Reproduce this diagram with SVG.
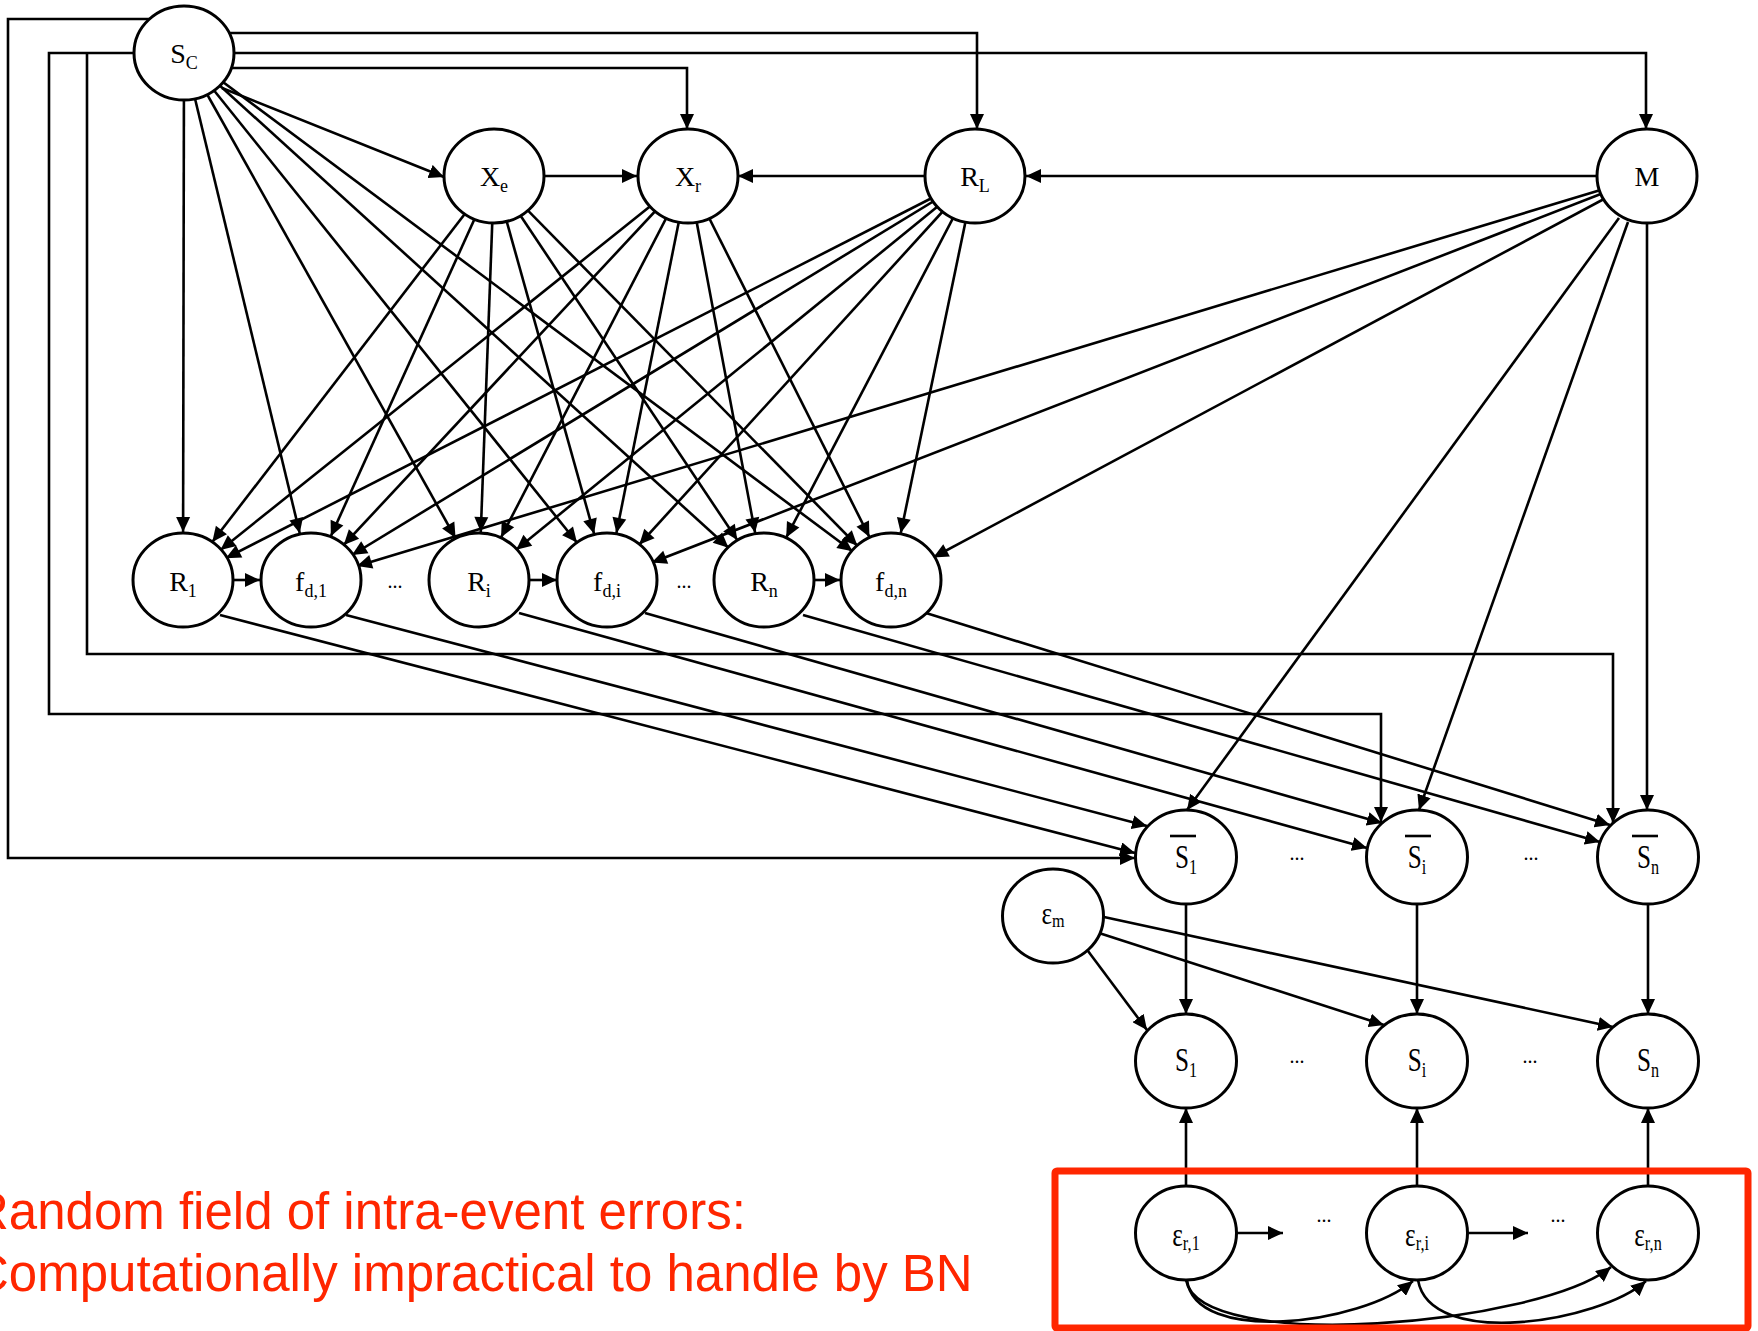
<svg xmlns="http://www.w3.org/2000/svg" width="1758" height="1331" viewBox="0 0 1758 1331">
<defs>
<style>
.n ellipse { fill:#fff; stroke:#000; stroke-width:3; }
.lb { font-family:"Liberation Serif","DejaVu Serif",serif; font-size:28px; text-anchor:middle; fill:#000; }
.sub { font-size:18px; }
.bar { stroke:#000; stroke-width:2.6; }
.e { fill:none; stroke:#000; stroke-width:2.6; }
.c { marker-end:url(#ahc); }
.a { marker-end:url(#ah); }
.dots { font-family:"Liberation Serif",serif; font-size:20px; text-anchor:middle; fill:#000; }
.red { font-family:"Liberation Sans",Arial,sans-serif; font-size:51px; fill:#ff2600; }
</style>
<marker id="ah" viewBox="0 0 15 14" refX="15" refY="7" markerWidth="15" markerHeight="14" markerUnits="userSpaceOnUse" orient="auto"><path d="M0,0 L15,7 L0,14 z" fill="#000"/></marker>
<marker id="ahc" viewBox="0 0 15 14" refX="63" refY="7" markerWidth="15" markerHeight="14" markerUnits="userSpaceOnUse" orient="auto" overflow="visible"><path d="M0,0 L15,7 L0,14 z" fill="#000"/></marker>
</defs>
<rect width="1758" height="1331" fill="#fff"/>

<g id="connectors">
  <line class="e c" x1="184" y1="53" x2="183" y2="580"/>
  <line class="e c" x1="184" y1="53" x2="311" y2="580"/>
  <line class="e c" x1="184" y1="53" x2="479" y2="580"/>
  <line class="e c" x1="184" y1="53" x2="607" y2="580"/>
  <line class="e c" x1="184" y1="53" x2="764" y2="580"/>
  <line class="e c" x1="184" y1="53" x2="891" y2="580"/>

  <line class="e c" x1="494" y1="176" x2="183" y2="580"/>
  <line class="e c" x1="494" y1="176" x2="311" y2="580"/>
  <line class="e c" x1="494" y1="176" x2="479" y2="580"/>
  <line class="e c" x1="494" y1="176" x2="607" y2="580"/>
  <line class="e c" x1="494" y1="176" x2="764" y2="580"/>
  <line class="e c" x1="494" y1="176" x2="891" y2="580"/>

  <line class="e c" x1="688" y1="176" x2="183" y2="580"/>
  <line class="e c" x1="688" y1="176" x2="311" y2="580"/>
  <line class="e c" x1="688" y1="176" x2="479" y2="580"/>
  <line class="e c" x1="688" y1="176" x2="607" y2="580"/>
  <line class="e c" x1="688" y1="176" x2="764" y2="580"/>
  <line class="e c" x1="688" y1="176" x2="891" y2="580"/>

  <line class="e c" x1="975" y1="176" x2="183" y2="580"/>
  <line class="e c" x1="975" y1="176" x2="311" y2="580"/>
  <line class="e c" x1="975" y1="176" x2="479" y2="580"/>
  <line class="e c" x1="975" y1="176" x2="607" y2="580"/>
  <line class="e c" x1="975" y1="176" x2="764" y2="580"/>
  <line class="e c" x1="975" y1="176" x2="891" y2="580"/>

  <line class="e c" x1="1647" y1="176" x2="311" y2="580"/>
  <line class="e c" x1="1647" y1="176" x2="607" y2="580"/>
  <line class="e c" x1="1647" y1="176" x2="891" y2="580"/>

  <line class="e a" x1="222" y1="88" x2="444" y2="177"/>
  <polyline class="e a" points="231,68 687,68 687,129"/>
  <polyline class="e a" points="229,33 977,33 977,129"/>
  <polyline class="e a" points="234,53 1646,53 1646,129"/>
  <line class="e a" x1="545" y1="176" x2="637" y2="176"/>
  <line class="e a" x1="924" y1="176" x2="738" y2="176"/>
  <line class="e a" x1="1596" y1="176" x2="1026" y2="176"/>

  <polyline class="e a" points="150,19 8,19 8,858 1135,858"/>
  <polyline class="e a" points="134,53 49,53 49,714 1381,714 1381,822"/>
  <polyline class="e a" points="87,53 87,654 1613,654 1613,823"/>

  <line class="e a" x1="234" y1="580" x2="260" y2="580"/>
  <line class="e a" x1="529" y1="580" x2="557" y2="580"/>
  <line class="e a" x1="815" y1="580" x2="840" y2="580"/>

  <line class="e a" x1="1619" y1="218" x2="1187" y2="810"/>
  <line class="e a" x1="1628" y1="222" x2="1419" y2="810"/>
  <line class="e a" x1="1647" y1="223" x2="1647" y2="810"/>

  <line class="e a" x1="220" y1="615" x2="1135" y2="853"/>
  <line class="e a" x1="346" y1="615" x2="1147" y2="826"/>
  <line class="e a" x1="519" y1="613" x2="1367" y2="848"/>
  <line class="e a" x1="645" y1="613" x2="1382" y2="823"/>
  <line class="e a" x1="803" y1="615" x2="1600" y2="842"/>
  <line class="e a" x1="926" y1="613" x2="1610" y2="825"/>

  <line class="e a" x1="1186" y1="904" x2="1186" y2="1014"/>
  <line class="e a" x1="1417" y1="904" x2="1417" y2="1014"/>
  <line class="e a" x1="1648" y1="904" x2="1648" y2="1014"/>

  <line class="e a" x1="1088" y1="951" x2="1147" y2="1030"/>
  <line class="e a" x1="1099" y1="933" x2="1384" y2="1025"/>
  <line class="e a" x1="1104" y1="917" x2="1613" y2="1027"/>

  <line class="e a" x1="1186" y1="1186" x2="1186" y2="1108"/>
  <line class="e a" x1="1417" y1="1186" x2="1417" y2="1108"/>
  <line class="e a" x1="1648" y1="1186" x2="1648" y2="1108"/>

  <line class="e a" x1="1237" y1="1233" x2="1283" y2="1233"/>
  <line class="e a" x1="1468" y1="1233" x2="1528" y2="1233"/>
  <path class="e a" d="M1187,1280 C1195,1345 1360,1325 1413,1281"/>
  <path class="e a" d="M1186,1280 C1200,1355 1540,1325 1611,1267"/>
  <path class="e a" d="M1418,1280 C1430,1350 1600,1322 1646,1281"/>
</g>

<g id="n-Sc" class="n"><ellipse cx="184" cy="53" rx="50" ry="47"/><text class="lb" x="184" y="63">S<tspan class="sub" dy="6">C</tspan></text></g>
<g id="n-Xe" class="n"><ellipse cx="494" cy="176" rx="50" ry="47"/><text class="lb" x="494" y="186">X<tspan class="sub" dy="6">e</tspan></text></g>
<g id="n-Xr" class="n"><ellipse cx="688" cy="176" rx="50" ry="47"/><text class="lb" x="688" y="186">X<tspan class="sub" dy="6">r</tspan></text></g>
<g id="n-RL" class="n"><ellipse cx="975" cy="176" rx="50" ry="47"/><text class="lb" x="975" y="186">R<tspan class="sub" dy="6">L</tspan></text></g>
<g id="n-M" class="n"><ellipse cx="1647" cy="176" rx="50" ry="47"/><text class="lb" x="1647" y="186">M</text></g>

<g id="n-R1" class="n"><ellipse cx="183" cy="580" rx="50" ry="47"/><text class="lb" x="183" y="591">R<tspan class="sub" dy="6">1</tspan></text></g>
<g id="n-fd1" class="n"><ellipse cx="311" cy="580" rx="50" ry="47"/><text class="lb" x="311" y="591">f<tspan class="sub" dy="6">d,1</tspan></text></g>
<g id="n-Ri" class="n"><ellipse cx="479" cy="580" rx="50" ry="47"/><text class="lb" x="479" y="591">R<tspan class="sub" dy="6">i</tspan></text></g>
<g id="n-fdi" class="n"><ellipse cx="607" cy="580" rx="50" ry="47"/><text class="lb" x="607" y="591">f<tspan class="sub" dy="6">d,i</tspan></text></g>
<g id="n-Rn" class="n"><ellipse cx="764" cy="580" rx="50" ry="47"/><text class="lb" x="764" y="591">R<tspan class="sub" dy="6">n</tspan></text></g>
<g id="n-fdn" class="n"><ellipse cx="891" cy="580" rx="50" ry="47"/><text class="lb" x="891" y="591">f<tspan class="sub" dy="6">d,n</tspan></text></g>

<g id="n-Sb1" class="n"><ellipse cx="1186" cy="857" rx="50.5" ry="47"/><line class="bar" x1="1170" y1="836" x2="1196" y2="836"/><text class="lb" transform="translate(1186,868) scale(0.9,1.18)">S<tspan class="sub" dy="5">1</tspan></text></g>
<g id="n-Sbi" class="n"><ellipse cx="1417" cy="857" rx="50.5" ry="47"/><line class="bar" x1="1405" y1="836" x2="1431" y2="836"/><text class="lb" transform="translate(1417,868) scale(0.9,1.18)">S<tspan class="sub" dy="5">i</tspan></text></g>
<g id="n-Sbn" class="n"><ellipse cx="1648" cy="857" rx="50.5" ry="47"/><line class="bar" x1="1632" y1="836" x2="1658" y2="836"/><text class="lb" transform="translate(1648,868) scale(0.9,1.18)">S<tspan class="sub" dy="5">n</tspan></text></g>

<g id="n-em" class="n"><ellipse cx="1053" cy="916" rx="50.5" ry="47"/><text class="lb" transform="translate(1053,924) scale(0.9,1.1)">ε<tspan class="sub" font-size="20" dy="3">m</tspan></text></g>

<g id="n-S1" class="n"><ellipse cx="1186" cy="1061" rx="50.5" ry="47"/><text class="lb" transform="translate(1186,1071) scale(0.9,1.18)">S<tspan class="sub" dy="5">1</tspan></text></g>
<g id="n-Si" class="n"><ellipse cx="1417" cy="1061" rx="50.5" ry="47"/><text class="lb" transform="translate(1417,1071) scale(0.9,1.18)">S<tspan class="sub" dy="5">i</tspan></text></g>
<g id="n-Sn" class="n"><ellipse cx="1648" cy="1061" rx="50.5" ry="47"/><text class="lb" transform="translate(1648,1071) scale(0.9,1.18)">S<tspan class="sub" dy="5">n</tspan></text></g>

<g id="n-er1" class="n"><ellipse cx="1186" cy="1233" rx="50.5" ry="47"/><text class="lb" transform="translate(1186,1246) scale(0.9,1.18)">ε<tspan class="sub" dy="3">r,1</tspan></text></g>
<g id="n-eri" class="n"><ellipse cx="1417" cy="1233" rx="50.5" ry="47"/><text class="lb" transform="translate(1417,1246) scale(0.9,1.18)">ε<tspan class="sub" dy="3">r,i</tspan></text></g>
<g id="n-ern" class="n"><ellipse cx="1648" cy="1233" rx="50.5" ry="47"/><text class="lb" transform="translate(1648,1246) scale(0.9,1.18)">ε<tspan class="sub" dy="3">r,n</tspan></text></g>

<g id="ellipses">
  <text class="dots" x="395" y="588">...</text>
  <text class="dots" x="684" y="588">...</text>
  <text class="dots" x="1297" y="860">...</text>
  <text class="dots" x="1531" y="860">...</text>
  <text class="dots" x="1297" y="1063">...</text>
  <text class="dots" x="1530" y="1063">...</text>
  <text class="dots" x="1324" y="1222">...</text>
  <text class="dots" x="1558" y="1222">...</text>
</g>

<g id="annotation">
  <rect x="1055" y="1171" width="693" height="157" rx="2" fill="none" stroke="#ff2600" stroke-width="7"/>
  <text class="red" x="-28" y="1229">Random field of intra-event errors:</text>
  <text class="red" x="-28" y="1291">Computationally impractical to handle by BN</text>
</g>
</svg>
